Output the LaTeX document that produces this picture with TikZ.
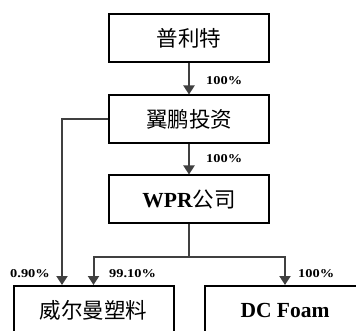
\documentclass[tikz,border=0pt]{standalone}
\usepackage{fontspec}
\setmainfont{Liberation Serif}
\newfontfamily\cjk{Noto Sans CJK SC}
\newfontfamily\pctfont[FakeStretch=1.2]{Liberation Serif}
\usetikzlibrary{arrows.meta}
\tikzset{
  box/.style={draw=black, line width=2pt, minimum width=160pt, minimum height=48pt, inner sep=0pt, font=\fontsize{21.5}{21.5}\selectfont},
  conn/.style={draw=black!75, line width=2pt},
  arr/.style={conn, -{Triangle[width=11pt,length=9pt]}},
  pct/.style={font=\pctfont\fontsize{12}{12}\selectfont\bfseries, inner sep=0pt, anchor=west}
}
\begin{document}
\begin{tikzpicture}[x=1pt,y=-1pt]
\useasboundingbox (0,0) rectangle (356,331);
\fill[white] (0,0) rectangle (356,331);
\clip (0,0) rectangle (356,331);
\node[box] (p) at (189,38) {\cjk 普利特};
\node[box] (j) at (189,119.5) {\cjk 翼鹏投资};
\node[box] (r) at (189,199.5) {{\bfseries WPR}{\cjk 公司}};
\node[box] (w) at (93.5,310) {\cjk 威尔曼塑料};
\node[box] (d) at (285,310) {\bfseries DC Foam};
\draw[arr] (p.south) -- (j.north);
\draw[arr] (j.south) -- (r.north);
\draw[arr] (j.west) -| ([xshift=-31.5pt]w.north);
\draw[conn] (r.south) -- ++(0,32.5) coordinate (br);
\draw[arr] (br) -| (w.north);
\draw[arr] (br) -| (d.north);
\node[pct] (l1) at (206,81) {100\%};
\node[pct] (l2) at (206,159) {100\%};
\node[pct] (l3) at (10,274) {0.90\%};
\node[pct] (l4) at (109,274) {99.10\%};
\node[pct] (l5) at (298,274) {100\%};
\end{tikzpicture}
\end{document}
